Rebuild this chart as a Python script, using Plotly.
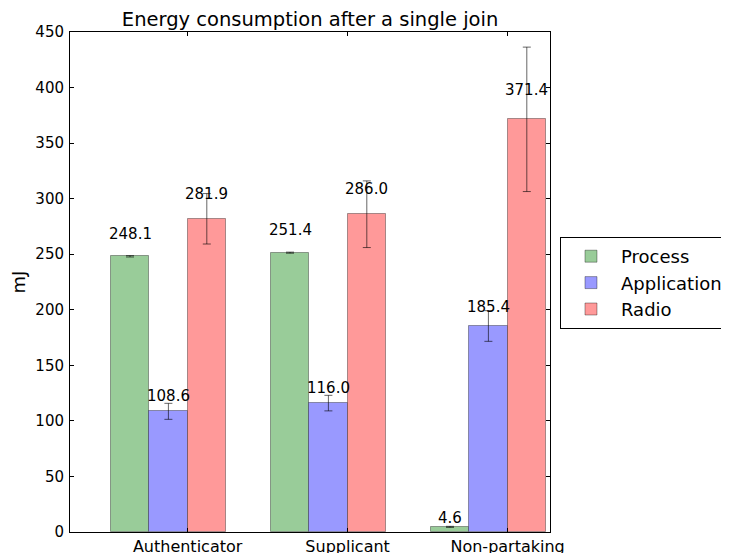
import plotly.graph_objects as go

categories = ["Authenticator", "Supplicant", "Non-partaking"]
series_names = ["Process", "Application", "Radio"]
process_vals = [248.1, 251.4, 4.6]
process_err = [0.6, 0.5, 0.5]
application_vals = [108.6, 116.0, 185.4]
application_err = [7.2, 7.0, 13.8]
radio_vals = [281.9, 286.0, 371.4]
radio_err = [22.7, 30.0, 65.0]
y_ticks = [0, 50, 100, 150, 200, 250, 300, 350, 400, 450]

fills = ["rgb(153,204,153)", "rgb(153,153,255)", "rgb(255,153,153)"]
bar_w = 0.24
start = 0.255
ind = list(range(len(categories)))

fig = go.Figure()
all_vals = [process_vals, application_vals, radio_vals]
all_errs = [process_err, application_err, radio_err]
font = "DejaVu Sans"
for k, (name, vals, errs) in enumerate(zip(series_names, all_vals, all_errs)):
    xs = [i + start + bar_w * (k + 0.5) for i in ind]
    fig.add_trace(go.Bar(
        x=xs, y=vals, width=bar_w, name=name,
        marker=dict(color=fills[k], line=dict(color="rgba(0,0,0,0.35)", width=1)),
        error_y=dict(type="data", array=errs, visible=True, color="rgba(0,0,0,0.6)",
                     thickness=1, width=4),
    ))
    for x, v in zip(xs, vals):
        fig.add_annotation(x=x, y=v * 1.05, text=f"{v:.1f}", showarrow=False,
                           yanchor="bottom", xanchor="center",
                           font=dict(family=font, size=15, color="black"), yshift=-2)

tick_pos = [i + start + bar_w * 2 for i in ind]
fig.update_layout(
    width=721, height=545,
    margin=dict(l=62, r=179, t=24, b=21, autoexpand=False),
    plot_bgcolor="white", paper_bgcolor="white",
    bargap=0, showlegend=True,
    font=dict(family=font, size=15, color="black"),
    title=dict(text="Energy consumption after a single join", x=0.419, xanchor="center",
               y=1 - 11 / 545, yanchor="middle", font=dict(family=font, size=19.5, color="black")),
    legend=dict(x=1.0208, xanchor="left", y=0.59, yanchor="top",
                bordercolor="black", borderwidth=1, bgcolor="white",
                font=dict(family=font, size=18), itemwidth=50, tracegroupgap=0),
    xaxis=dict(range=[0, 3], tickvals=tick_pos, ticktext=categories, ticks="inside",
               ticklen=4, tickcolor="black", showline=True, linecolor="black", linewidth=1,
               mirror="ticks", showgrid=False, zeroline=False,
               tickfont=dict(family=font, size=16)),
    yaxis=dict(range=[0, 450], tickvals=y_ticks, ticks="inside", ticklen=4, tickcolor="black",
               showline=True, linecolor="black", linewidth=1, mirror="ticks",
               showgrid=False, zeroline=False, title=dict(text="mJ", standoff=14),
               ticklabelstandoff=2,
               tickfont=dict(family=font, size=15)),
)
fig.write_html("out.html")
